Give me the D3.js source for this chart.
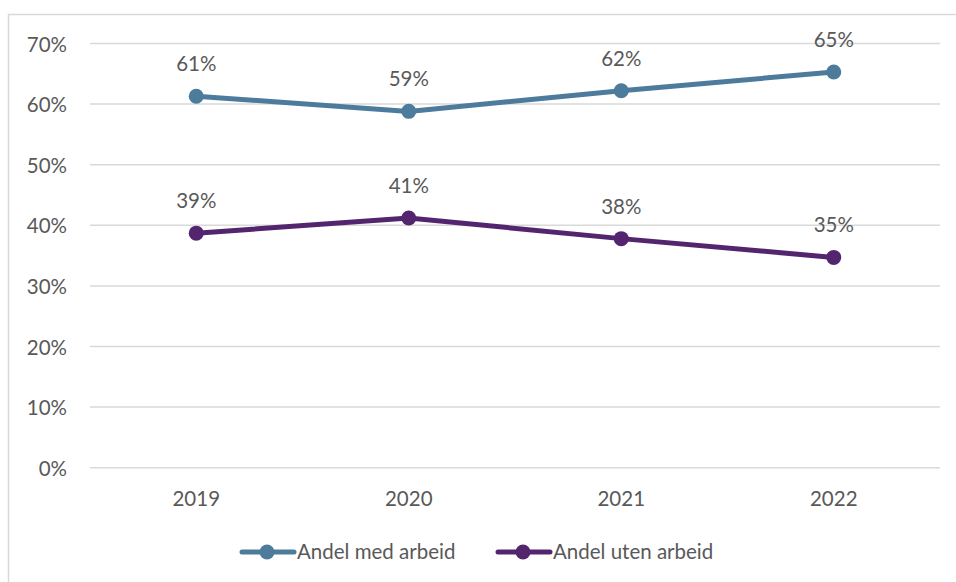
<!DOCTYPE html>
<html>
<head>
<meta charset="utf-8">
<script src="https://cdn.jsdelivr.net/npm/d3@7"></script>
<style>
  body { margin: 0; background: #fff; }
  text { font-family: Lato, "Open Sans", sans-serif; fill: #595959; }
</style>
</head>
<body>
<svg class="chart" width="956" height="582"></svg>
<script>
const years = ["2019", "2020", "2021", "2022"];
const medArbeid = [61.3, 58.8, 62.2, 65.3];
const utenArbeid = [38.7, 41.2, 37.8, 34.7];
const yTicks = [0, 10, 20, 30, 40, 50, 60, 70];
const seriesNames = ["Andel med arbeid", "Andel uten arbeid"];

const svg = d3.select(".chart");
const colors = ["#4c7b9c", "#54256f"];
const fontSize = 20.5;

// chart frame
svg.append("rect")
    .attr("x", 8.5).attr("y", 14.5)
    .attr("width", 980).attr("height", 600)
    .attr("fill", "none").attr("stroke", "#d9d9d9").attr("stroke-width", 1.5);

const x = d3.scaleBand().domain(years).range([90, 940]);
const y = d3.scaleLinear().domain([0, 70]).range([467.7, 43.5]);

// gridlines
svg.append("g")
    .selectAll("line")
    .data(yTicks)
    .enter().append("line")
    .attr("x1", 90).attr("x2", 940)
    .attr("y1", d => y(d)).attr("y2", d => y(d))
    .attr("stroke", "#d9d9d9").attr("stroke-width", 1.5);

// y axis labels
const yAxis = svg.append("g")
    .attr("transform", "translate(67,1)")
    .call(d3.axisLeft(y).tickValues(yTicks).tickFormat(d => d + "%").tickSize(0).tickPadding(0));
yAxis.select(".domain").remove();
yAxis.selectAll("text").attr("font-size", fontSize).attr("font-family", "Lato").attr("fill", "#595959");

// x axis labels
const xAxis = svg.append("g")
    .attr("transform", "translate(0,491)")
    .call(d3.axisBottom(x).tickSize(0).tickPadding(0));
xAxis.select(".domain").remove();
xAxis.selectAll("text").attr("font-size", fontSize).attr("font-family", "Lato").attr("fill", "#595959");

const line = d3.line()
    .x((d, i) => x(years[i]) + x.bandwidth() / 2)
    .y(d => y(d));

[medArbeid, utenArbeid].forEach((values, s) => {
    svg.append("path")
        .attr("d", line(values))
        .attr("fill", "none")
        .attr("stroke", colors[s])
        .attr("stroke-width", 5)
        .attr("stroke-linecap", "round");

    svg.selectAll(".pt" + s)
        .data(values)
        .enter().append("circle")
        .attr("cx", (d, i) => x(years[i]) + x.bandwidth() / 2)
        .attr("cy", d => y(d))
        .attr("r", 7.5)
        .attr("fill", colors[s]);

    svg.selectAll(".lbl" + s)
        .data(values)
        .enter().append("text")
        .attr("x", (d, i) => x(years[i]) + x.bandwidth() / 2)
        .attr("y", d => y(d) - 25)
        .attr("text-anchor", "middle")
        .attr("font-size", fontSize)
        .text(d => Math.round(d) + "%");
});

// legend
const legendX = [240, 496];
seriesNames.forEach((name, s) => {
    const g = svg.append("g").attr("transform", `translate(${legendX[s]},552)`);
    g.append("line")
        .attr("x1", 2).attr("x2", 54)
        .attr("stroke", colors[s]).attr("stroke-width", 5).attr("stroke-linecap", "round");
    g.append("circle").attr("cx", 27).attr("r", 7.5).attr("fill", colors[s]);
    g.append("text")
        .attr("x", 57).attr("y", 7)
        .attr("font-size", fontSize)
        .text(name);
});
</script>
</body>
</html>
